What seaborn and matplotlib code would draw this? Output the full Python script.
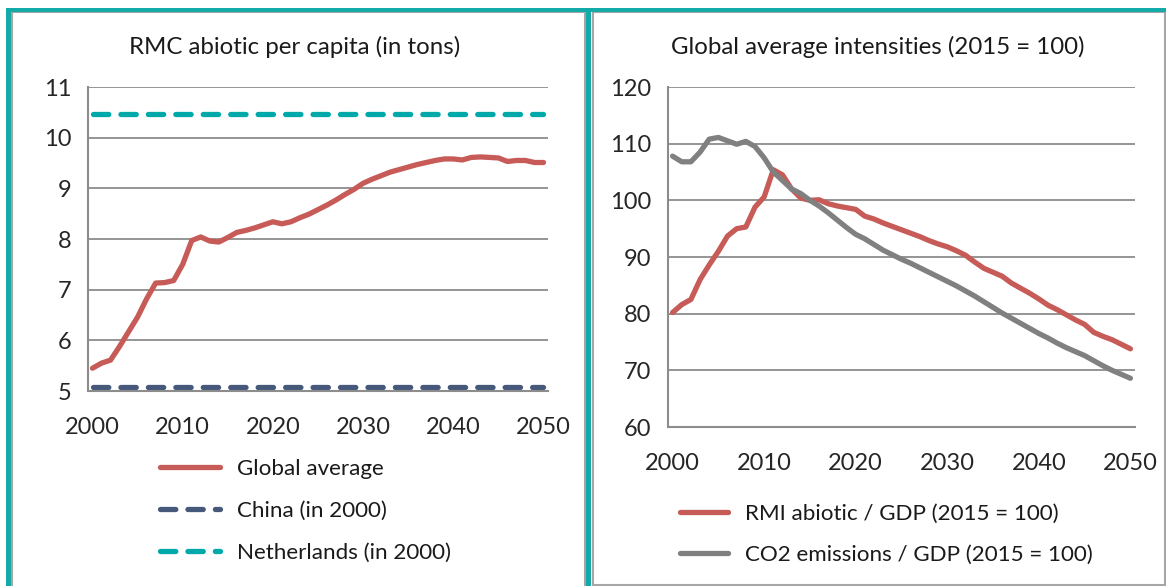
import numpy as np
import pandas as pd
import matplotlib
matplotlib.use("Agg")
import matplotlib.pyplot as plt
from matplotlib.patches import Rectangle
import seaborn as sns

# data
years = list(range(2000, 2051))

global_avg = [5.45, 5.55, 5.61, 5.88, 6.17, 6.46, 6.82, 7.13, 7.14, 7.18,
              7.50, 7.97, 8.04, 7.96, 7.94, 8.03, 8.13, 8.17, 8.22, 8.28,
              8.34, 8.30, 8.34, 8.42, 8.49, 8.58, 8.67, 8.77, 8.88, 8.98,
              9.10, 9.18, 9.25, 9.32, 9.37, 9.42, 9.47, 9.51, 9.55, 9.58,
              9.58, 9.56, 9.61, 9.62, 9.61, 9.60, 9.53, 9.55, 9.55, 9.51,
              9.51]
china_2000 = 5.08
netherlands_2000 = 10.47

rmi_gdp = [80.2, 81.6, 82.5, 86.0, 88.6, 91.0, 93.7, 95.0, 95.3, 98.8,
           100.6, 105.4, 104.5, 102.0, 100.4, 100.0, 100.1, 99.4, 99.0, 98.7,
           98.4, 97.2, 96.7, 96.0, 95.4, 94.8, 94.2, 93.6, 92.9, 92.3,
           91.8, 91.1, 90.3, 89.1, 88.0, 87.3, 86.6, 85.4, 84.5, 83.6,
           82.6, 81.5, 80.7, 79.8, 78.9, 78.1, 76.7, 76.0, 75.4, 74.6,
           73.8]
co2_gdp = [107.8, 106.8, 106.8, 108.5, 110.8, 111.1, 110.5, 109.9, 110.4, 109.5,
           107.5, 105.0, 103.5, 102.0, 101.2, 100.0, 99.0, 97.8, 96.5, 95.2,
           94.0, 93.2, 92.2, 91.2, 90.4, 89.6, 88.9, 88.1, 87.3, 86.5,
           85.7, 84.9, 84.0, 83.1, 82.1, 81.1, 80.1, 79.2, 78.3, 77.4,
           76.5, 75.7, 74.8, 74.0, 73.3, 72.6, 71.7, 70.8, 70.0, 69.3,
           68.6]

left_title = "RMC abiotic per capita (in tons)"
right_title = "Global average intensities (2015 = 100)"
left_yticks = [5, 6, 7, 8, 9, 10, 11]
right_yticks = [60, 70, 80, 90, 100, 110, 120]
xticks = [2000, 2010, 2020, 2030, 2040, 2050]

RED = "#C65B58"
NAVY = "#46597A"
TEAL = "#00A9A9"
GRAY = "#808080"
GRID = "#8C8C8C"
FRAME = "#14AAA7"

sns.set_style("white")
plt.rcParams["font.family"] = ["Lato", "DejaVu Sans"]
plt.rcParams["text.color"] = "#1a1a1a"

df = pd.DataFrame({"year": years, "global": global_avg,
                   "china": [china_2000] * len(years),
                   "nl": [netherlands_2000] * len(years),
                   "rmi": rmi_gdp, "co2": co2_gdp})

W, H = 1166, 586
fig = plt.figure(figsize=(W / 100, H / 100), dpi=100)

# frame decoration
def px_rect(x0, y0, x1, y1, **kw):
    fig.patches.append(Rectangle((x0 / W, 1 - y1 / H), (x1 - x0) / W, (y1 - y0) / H,
                                 transform=fig.transFigure, **kw))

px_rect(11.5, 11.5, 585, 590, fill=False, ec="#A6A6A6", lw=1.5)
px_rect(592.5, 11.5, 1164.5, 585, fill=False, ec="#A6A6A6", lw=1.5)
px_rect(6, 8, 1166, 11.5, color=FRAME, lw=0)
px_rect(6, 8, 11, 590, color=FRAME, lw=0)
px_rect(586, 8, 591, 590, color=FRAME, lw=0)

ax1 = fig.add_axes([88 / W, 1 - 391 / H, (548 - 88) / W, (391 - 87) / H])
ax2 = fig.add_axes([668 / W, 1 - 427 / H, (1135 - 668) / W, (427 - 87) / H])

sns.lineplot(data=df, x="year", y="global", ax=ax1, color=RED, lw=3.8,
             label="Global average", solid_capstyle="round")
sns.lineplot(data=df, x="year", y="china", ax=ax1, color=NAVY, lw=3.8,
             label="China (in 2000)")
sns.lineplot(data=df, x="year", y="nl", ax=ax1, color=TEAL, lw=3.8,
             label="Netherlands (in 2000)")
for ln in ax1.lines[1:]:
    ln.set_dashes((2.9, 2.3))
    ln.set_dash_capstyle("round")

sns.lineplot(data=df, x="year", y="rmi", ax=ax2, color=RED, lw=3.8,
             label="RMI abiotic / GDP (2015 = 100)", solid_capstyle="round")
sns.lineplot(data=df, x="year", y="co2", ax=ax2, color=GRAY, lw=3.8,
             label="CO2 emissions / GDP (2015 = 100)", solid_capstyle="round")

for ax, yt in ((ax1, left_yticks), (ax2, right_yticks)):
    ax.set_xlim(1999.5, 2050.5)
    ax.set_ylim(yt[0], yt[-1])
    ax.set_yticks(yt)
    ax.set_xticks(xticks)
    ax.set_xlabel("")
    ax.set_ylabel("")
    ax.grid(axis="y", color=GRID, lw=1.3)
    ax.set_axisbelow(True)
    for s in ("top", "right"):
        ax.spines[s].set_visible(False)
    for s in ("left", "bottom"):
        ax.spines[s].set_color(GRID)
        ax.spines[s].set_linewidth(1.5)
    ax.tick_params(axis="y", length=6, width=1.3, color=GRID, labelsize=17, pad=6)
    ax.tick_params(axis="x", length=0, labelsize=17, pad=19)

fig.text(295 / W, 1 - 47 / H, left_title, ha="center", va="center", fontsize=17.3)
fig.text(878 / W, 1 - 47 / H, right_title, ha="center", va="center", fontsize=17.3)

leg_kw = dict(frameon=False, fontsize=16.1, borderpad=0, borderaxespad=0,
              handletextpad=0.75, bbox_transform=fig.transFigure, loc="upper left")
ax1.legend(bbox_to_anchor=(160 / W, 1 - 459 / H), handlelength=2.7, labelspacing=0.99, **leg_kw)
ax2.legend(bbox_to_anchor=(680 / W, 1 - 504 / H), handlelength=2.15, labelspacing=0.92, **leg_kw)

fig.savefig("out.png", dpi=100)
